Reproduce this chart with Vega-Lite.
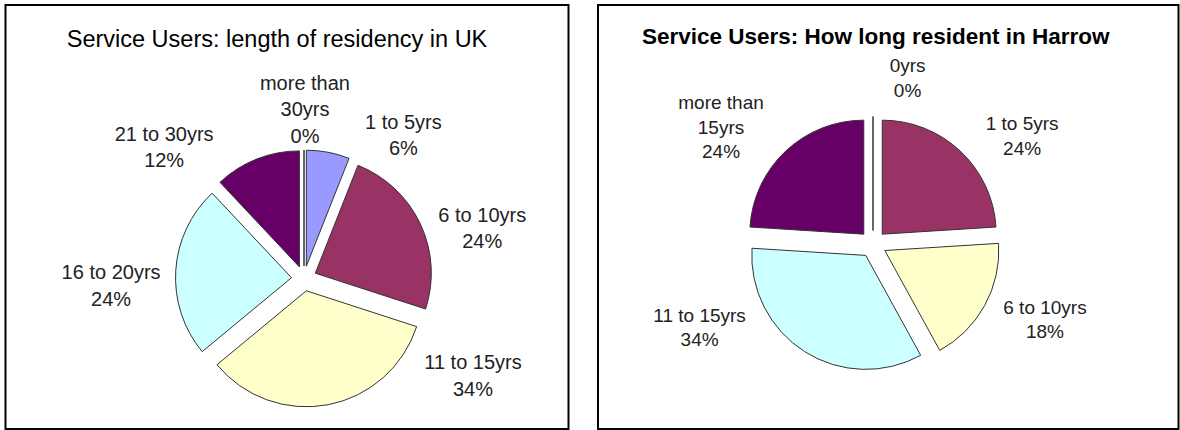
{
  "$schema": "https://vega.github.io/schema/vega-lite/v6.json",
  "padding": {"left": 4.5, "top": 4, "right": 0, "bottom": 0},
  "background": "white",
  "spacing": 27.5,
  "resolve": {"scale": {"color": "independent", "theta": "independent"}},
  "config": {
    "view": {"stroke": "#000", "strokeWidth": 2},
    "style": {"cell": {"stroke": "#000", "strokeWidth": 2}},
    "font": "Liberation Sans"
  },
  "hconcat": [
    {
      "width": 563,
      "height": 424,
      "view": {"stroke": "#000", "strokeWidth": 2},
      "title": {
        "text": "Service Users: length of residency in UK",
        "font": "Liberation Sans",
        "fontSize": 23.5,
        "fontWeight": "normal",
        "color": "#000",
        "anchor": "middle",
        "frame": "group",
        "offset": -46,
        "dx": -10
      },
      "data": {
        "values": [
          {"cat": "1 to 5yrs", "from": 1, "pct": 6, "label": "1 to 5yrs|6%"},
          {"cat": "6 to 10yrs", "from": 6, "pct": 24, "label": "6 to 10yrs|24%"},
          {"cat": "11 to 15yrs", "from": 11, "pct": 34, "label": "11 to 15yrs|34%"},
          {"cat": "16 to 20yrs", "from": 16, "pct": 24, "label": "16 to 20yrs|24%"},
          {"cat": "21 to 30yrs", "from": 21, "pct": 12, "label": "21 to 30yrs|12%"},
          {"cat": "more than 30yrs", "from": 31, "pct": 0, "label": "more than|30yrs|0%"}
        ]
      },
      "encoding": {
        "theta": {"field": "pct", "type": "quantitative", "stack": true},
        "order": {"field": "from", "type": "quantitative"}
      },
      "layer": [
        {
          "mark": {
            "type": "arc",
            "x": 298.5,
            "y": 273.5,
            "outerRadius": 116,
            "stroke": "#333",
            "strokeWidth": 1,
            "xOffset": {"expr": "12.5*sin(PI*(datum.pct_start+datum.pct_end)/100)"},
            "yOffset": {"expr": "-12.5*cos(PI*(datum.pct_start+datum.pct_end)/100)"}
          },
          "encoding": {
            "color": {
              "field": "cat",
              "type": "nominal",
              "scale": {
                "domain": ["1 to 5yrs", "6 to 10yrs", "11 to 15yrs", "16 to 20yrs", "21 to 30yrs", "more than 30yrs"],
                "range": ["#9999FF", "#993366", "#FFFFCC", "#CCFFFF", "#660066", "#FF8080"]
              },
              "legend": null
            }
          }
        },
        {
          "mark": {
            "type": "text",
            "x": 298.5,
            "y": 273.5,
            "lineBreak": "|",
            "fontSize": 20,
            "lineHeight": 26.5,
            "align": "center",
            "baseline": "middle",
            "radius": {"expr": "datum.cat=='more than 30yrs'?195:datum.cat=='1 to 5yrs'?184.6:datum.cat=='6 to 10yrs'?189:datum.cat=='11 to 15yrs'?189:datum.cat=='16 to 20yrs'?193:200.7"},
            "thetaOffset": {"expr": "datum.cat=='1 to 5yrs'?0.38:datum.cat=='6 to 10yrs'?0.101:datum.cat=='11 to 15yrs'?-0.918:datum.cat=='16 to 20yrs'?-0.035:datum.cat=='21 to 30yrs'?-0.394:0.005"}
          },
          "encoding": {
            "text": {"field": "label", "type": "nominal"},
            "color": {"value": "#222"}
          }
        }
      ]
    },
    {
      "width": 580.5,
      "height": 424,
      "view": {"stroke": "#000", "strokeWidth": 2},
      "title": {
        "text": "Service Users: How long resident in Harrow",
        "font": "Liberation Sans",
        "fontSize": 22.5,
        "fontWeight": "bold",
        "color": "#000",
        "anchor": "middle",
        "frame": "group",
        "offset": -43,
        "dx": -12.5
      },
      "data": {
        "values": [
          {"cat": "0yrs", "from": 0, "pct": 0, "label": "0yrs|0%"},
          {"cat": "1 to 5yrs", "from": 1, "pct": 24, "label": "1 to 5yrs|24%"},
          {"cat": "6 to 10yrs", "from": 6, "pct": 18, "label": "6 to 10yrs|18%"},
          {"cat": "11 to 15yrs", "from": 11, "pct": 34, "label": "11 to 15yrs|34%"},
          {"cat": "more than 15yrs", "from": 16, "pct": 24, "label": "more than|15yrs|24%"}
        ]
      },
      "encoding": {
        "theta": {"field": "pct", "type": "quantitative", "stack": true},
        "order": {"field": "from", "type": "quantitative"}
      },
      "layer": [
        {
          "mark": {
            "type": "arc",
            "x": 275,
            "y": 239,
            "outerRadius": 114,
            "stroke": "#333",
            "strokeWidth": 1,
            "xOffset": {"expr": "13.5*sin(PI*(datum.pct_start+datum.pct_end)/100)"},
            "yOffset": {"expr": "-13.5*cos(PI*(datum.pct_start+datum.pct_end)/100)"}
          },
          "encoding": {
            "color": {
              "field": "cat",
              "type": "nominal",
              "scale": {
                "domain": ["0yrs", "1 to 5yrs", "6 to 10yrs", "11 to 15yrs", "more than 15yrs"],
                "range": ["#9999FF", "#993366", "#FFFFCC", "#CCFFFF", "#660066"]
              },
              "legend": null
            }
          }
        },
        {
          "mark": {
            "type": "text",
            "x": 275,
            "y": 239,
            "lineBreak": "|",
            "fontSize": 19,
            "lineHeight": 24.5,
            "align": "center",
            "baseline": "middle",
            "radius": {"expr": "datum.cat=='0yrs'?181.3:datum.cat=='1 to 5yrs'?191.3:datum.cat=='6 to 10yrs'?183.4:datum.cat=='11 to 15yrs'?187.6:207.1"},
            "thetaOffset": {"expr": "datum.cat=='0yrs'?0.192:datum.cat=='1 to 5yrs'?0.14:datum.cat=='6 to 10yrs'?-0.148:datum.cat=='11 to 15yrs'?0.614:-0.07"}
          },
          "encoding": {
            "text": {"field": "label", "type": "nominal"},
            "color": {"value": "#222"}
          }
        }
      ]
    }
  ]
}
